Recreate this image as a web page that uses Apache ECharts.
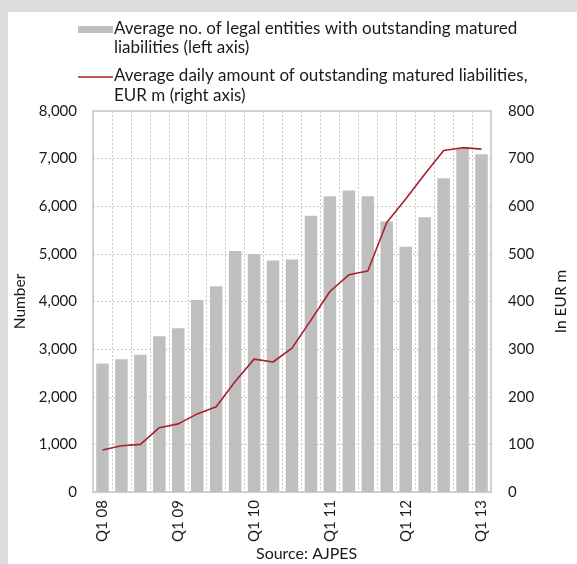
<!DOCTYPE html>
<html>
<head>
<meta charset="utf-8">
<script src="https://cdn.jsdelivr.net/npm/echarts@6/dist/echarts.min.js"></script>
<style>
  html, body { margin: 0; padding: 0; background: #dcdcdc; }
  #frame { position: absolute; left: 8px; top: 12px; width: 569px; height: 552px; background: #ffffff; }
  #chart { position: absolute; left: 0; top: 0; width: 577px; height: 564px; }
</style>
</head>
<body>
<div id="frame"></div>
<div id="chart"></div>
<script>
// Quarterly categories, Q1 2008 to Q1 2013
const quarters = [
  'Q1 08', 'Q2 08', 'Q3 08', 'Q4 08',
  'Q1 09', 'Q2 09', 'Q3 09', 'Q4 09',
  'Q1 10', 'Q2 10', 'Q3 10', 'Q4 10',
  'Q1 11', 'Q2 11', 'Q3 11', 'Q4 11',
  'Q1 12', 'Q2 12', 'Q3 12', 'Q4 12',
  'Q1 13'
];

// Average number of legal entities with outstanding matured liabilities (left axis)
const entities = [
  2700, 2790, 2880, 3270,
  3440, 4030, 4320, 5060,
  5000, 4860, 4880, 5800,
  6210, 6330, 6210, 5680,
  5150, 5770, 6590, 7220,
  7090
];

// Average daily amount of outstanding matured liabilities, EUR m (right axis)
const amounts = [
  88, 97, 100, 135,
  143, 164, 179, 232,
  279, 273, 302, 361,
  421, 456, 464, 566,
  615, 667, 717, 723,
  720
];

const leftTicks = { min: 0, max: 8000, interval: 1000 };
const rightTicks = { min: 0, max: 800, interval: 100 };

const FONT = 'Lato';
const TEXT = '#1a1a1a';
const GRID_COLOR = '#c8c8c8';
const BAR_COLOR = '#bfbfbf';
const LINE_COLOR = '#a8202c';

const chart = echarts.init(document.getElementById('chart'), null, { renderer: 'canvas' });

chart.setOption({
  backgroundColor: 'transparent',
  animation: false,
  textStyle: { fontFamily: FONT, color: TEXT },
  grid: {
    left: 93, right: 76, top: 111, bottom: 72,
    show: true, borderColor: GRID_COLOR, borderWidth: 1.5, backgroundColor: '#ffffff'
  },
  xAxis: {
    type: 'category',
    data: quarters,
    axisLine: { show: false },
    axisTick: { show: false },
    splitLine: { show: true, interval: 0, lineStyle: { color: GRID_COLOR, type: [2, 2], width: 1 } },
    axisLabel: {
      interval: 3, rotate: 90, margin: 8,
      fontFamily: FONT, fontSize: 15, color: TEXT
    }
  },
  yAxis: [
    {
      type: 'value',
      min: leftTicks.min, max: leftTicks.max, interval: leftTicks.interval,
      name: 'Number', nameLocation: 'middle', nameGap: 62, nameRotate: 90,
      nameTextStyle: { fontFamily: FONT, fontSize: 15.5, color: TEXT },
      axisLine: { show: false },
      axisTick: { show: false },
      splitLine: { show: true, lineStyle: { color: GRID_COLOR, type: [2, 2], width: 1 } },
      axisLabel: {
        margin: 16, fontFamily: FONT, fontSize: 15, color: TEXT,
        formatter: v => v.toLocaleString('en-US')
      }
    },
    {
      type: 'value',
      min: rightTicks.min, max: rightTicks.max, interval: rightTicks.interval,
      name: 'In EUR m', nameLocation: 'middle', nameGap: 62, nameRotate: 90,
      nameTextStyle: { fontFamily: FONT, fontSize: 15.5, color: TEXT },
      axisLine: { show: false },
      axisTick: { show: false },
      splitLine: { show: false },
      axisLabel: { margin: 17, fontFamily: FONT, fontSize: 15, color: TEXT }
    }
  ],
  series: [
    {
      name: 'entities',
      type: 'bar',
      yAxisIndex: 0,
      data: entities,
      barCategoryGap: '34%',
      itemStyle: { color: BAR_COLOR }
    },
    {
      name: 'amounts',
      type: 'line',
      yAxisIndex: 1,
      data: amounts,
      symbol: 'none',
      lineStyle: { color: LINE_COLOR, width: 1.6 }
    }
  ],
  graphic: [
    // legend: bar swatch
    { type: 'rect', left: 78, top: 26, shape: { width: 35, height: 7 }, style: { fill: BAR_COLOR } },
    {
      type: 'text', left: 114, top: 19,
      style: {
        text: 'Average no. of legal entities with outstanding matured\nliabilities (left axis)',
        font: '17px ' + FONT, fill: TEXT, lineHeight: 19
      }
    },
    // legend: line swatch
    { type: 'line', shape: { x1: 78, y1: 77, x2: 113, y2: 77 }, style: { stroke: LINE_COLOR, lineWidth: 1.6 } },
    {
      type: 'text', left: 114, top: 66,
      style: {
        text: 'Average daily amount of outstanding matured liabilities,\nEUR m (right axis)',
        font: '17px ' + FONT, fill: TEXT, lineHeight: 20
      }
    },
    {
      type: 'text', left: 256, top: 546,
      style: { text: 'Source: AJPES', font: '16px ' + FONT, fill: TEXT }
    }
  ]
});
</script>
</body>
</html>
